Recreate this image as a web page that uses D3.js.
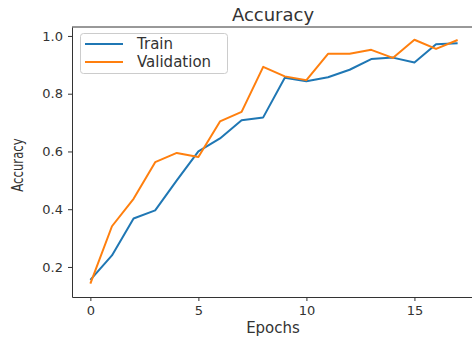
<!DOCTYPE html>
<html>
<head>
<meta charset="utf-8">
<script src="https://cdn.jsdelivr.net/npm/d3@7"></script>
<style>
  body { margin: 0; background: #fff; }
  text { font-family: "DejaVu Sans", sans-serif; fill: #333; }
</style>
</head>
<body>
<div id="chart"></div>
<script>
// 数据
const epochs = d3.range(0, 18);
const trainAcc = [0.155, 0.24, 0.368, 0.396, 0.50, 0.60, 0.645, 0.708, 0.718, 0.855, 0.843, 0.857, 0.883, 0.92, 0.925, 0.908, 0.971, 0.975];
const valAcc = [0.142, 0.341, 0.436, 0.563, 0.595, 0.581, 0.704, 0.737, 0.893, 0.86, 0.847, 0.938, 0.938, 0.952, 0.924, 0.987, 0.955, 0.986];
const xTicks = [0, 5, 10, 15];
const yTicks = [0.2, 0.4, 0.6, 0.8, 1.0];
const seriesNames = ['Train', 'Validation'];
const colors = ['#1f77b4', '#ff7f0e'];

const width = 472, height = 337;
const margin = { top: 27, right: -4, bottom: 40, left: 72 };

const svg = d3.select('#chart').append('svg')
    .attr('width', width)
    .attr('height', height);

const x = d3.scaleLinear()
    .domain([-0.85, 17.85])
    .range([margin.left, width - margin.right]);

const y = d3.scaleLinear()
    .domain([0.096, 1.031])
    .range([height - margin.bottom, margin.top]);

// 坐标轴
const xAxis = svg.append('g')
    .attr('transform', `translate(0,${height - margin.bottom})`)
    .call(d3.axisBottom(x).tickValues(xTicks).tickFormat(d3.format('d')).tickSize(4).tickPadding(5).tickSizeOuter(0));

const yAxis = svg.append('g')
    .attr('transform', `translate(${margin.left},0)`)
    .call(d3.axisLeft(y).tickValues(yTicks).tickFormat(d3.format('.1f')).tickSize(4).tickPadding(5).tickSizeOuter(0));

[xAxis, yAxis].forEach(g => {
    g.select('.domain').attr('stroke', '#333');
    g.selectAll('.tick line').attr('stroke', '#333');
    g.selectAll('.tick text').attr('font-size', '13px').attr('font-family', '"DejaVu Sans", sans-serif').attr('fill', '#333');
});

// 顶部边框
svg.append('line')
    .attr('x1', margin.left).attr('x2', width)
    .attr('y1', margin.top).attr('y2', margin.top)
    .attr('stroke', '#333');

// 折线
const line = d3.line()
    .x((d, i) => x(epochs[i]))
    .y(d => y(d));

[trainAcc, valAcc].forEach((series, k) => {
    svg.append('path')
        .datum(series)
        .attr('d', line)
        .attr('fill', 'none')
        .attr('stroke', colors[k])
        .attr('stroke-width', 2)
        .attr('stroke-linejoin', 'round');
});

// 标题和轴标签
svg.append('text')
    .attr('x', 273).attr('y', 21)
    .attr('text-anchor', 'middle')
    .attr('font-size', '18px')
    .text('Accuracy');

svg.append('text')
    .attr('x', 273).attr('y', 333)
    .attr('text-anchor', 'middle')
    .attr('font-size', '15px')
    .text('Epochs');

svg.append('text')
    .attr('transform', 'translate(23,165) rotate(-90) scale(0.78,1)')
    .attr('text-anchor', 'middle')
    .attr('font-size', '15px')
    .text('Accuracy');

// 图例
const legend = svg.append('g');
legend.append('rect')
    .attr('x', 80.5).attr('y', 33.5)
    .attr('width', 147).attr('height', 40)
    .attr('rx', 3)
    .attr('fill', '#fff')
    .attr('fill-opacity', 0.8)
    .attr('stroke', '#ccc');

seriesNames.forEach((name, k) => {
    const ly = 44 + k * 18;
    legend.append('line')
        .attr('x1', 85).attr('x2', 123)
        .attr('y1', ly).attr('y2', ly)
        .attr('stroke', colors[k])
        .attr('stroke-width', 2);
    legend.append('text')
        .attr('x', 137).attr('y', ly + 5)
        .attr('font-size', '15px')
        .text(name);
});
</script>
</body>
</html>
